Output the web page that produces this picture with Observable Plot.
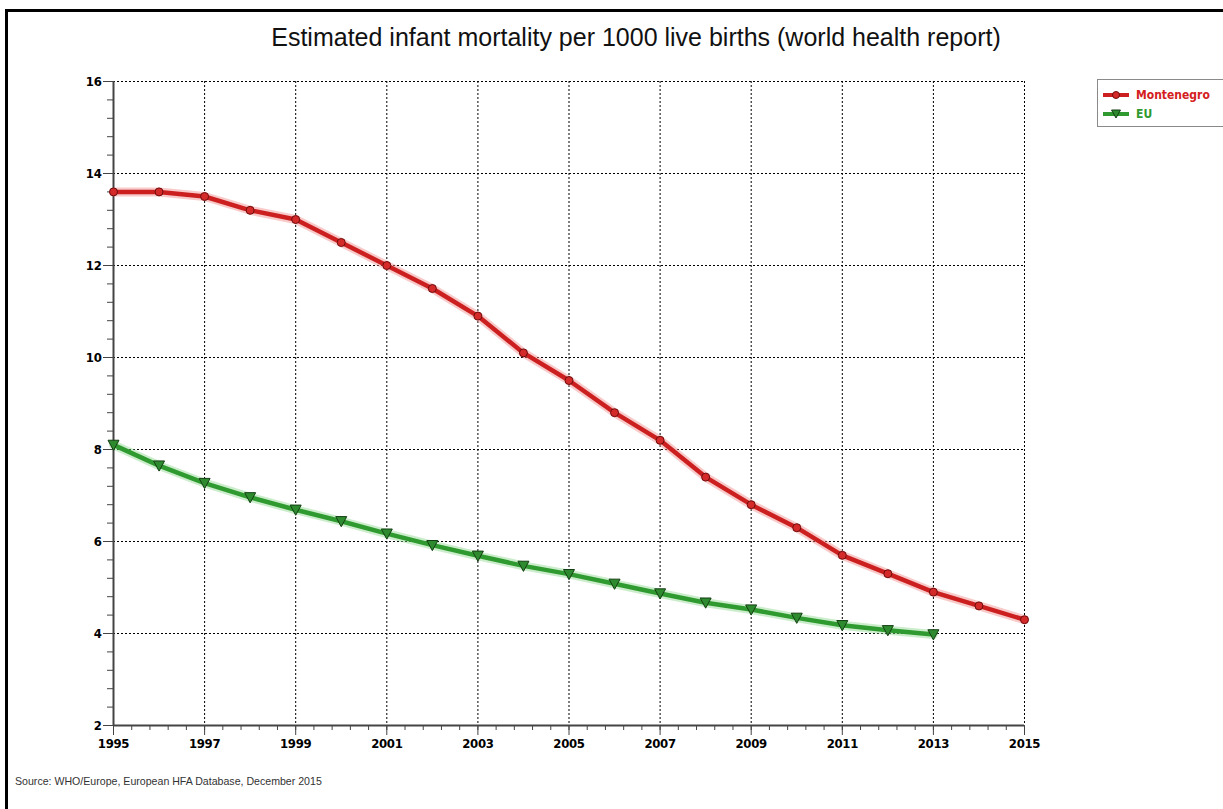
<!DOCTYPE html>
<html>
<head>
<meta charset="utf-8">
<script src="https://cdn.jsdelivr.net/npm/d3@7"></script>
<script src="https://cdn.jsdelivr.net/npm/@observablehq/plot@0.6"></script>
<style>
  html, body { margin: 0; padding: 0; background: #fff; }
  body { width: 1223px; height: 809px; overflow: hidden; position: relative; font-family: "Liberation Sans", Arial, sans-serif; }
  #frameTop { position: absolute; left: 5px; top: 9px; width: 1218px; height: 3px; background: #000; }
  #frameLeft { position: absolute; left: 5px; top: 9px; width: 3px; height: 800px; background: #000; }
  #title { position: absolute; left: 0; top: 23px; width: 1272px; text-align: center; font-size: 25px; line-height: 29px; color: #111; white-space: nowrap; }
  #chart { position: absolute; left: 0; top: 60px; }
  #source { position: absolute; left: 15px; top: 775px; font-size: 10.6px; color: #333; white-space: nowrap; }
  #legend { position: absolute; left: 1097px; top: 79px; width: 140px; height: 46px; border: 1px solid #8a8a8a; background: #fff; }
  .item { position: absolute; left: 5px; height: 18px; display: flex; align-items: center; font-family: "Liberation Sans Narrow", "DejaVu Sans Condensed", "Arial Narrow", sans-serif; font-stretch: condensed; font-weight: bold; font-size: 12px; }
  .item svg { margin-right: 6px; }
</style>
</head>
<body>
<div id="frameTop"></div>
<div id="frameLeft"></div>
<div id="title">Estimated infant mortality per 1000 live births (world health report)</div>
<div id="chart"></div>
<div id="legend"></div>
<div id="source">Source: WHO/Europe, European HFA Database, December 2015</div>
<script>
// ---- data ----
const years = [1995, 1996, 1997, 1998, 1999, 2000, 2001, 2002, 2003, 2004, 2005,
               2006, 2007, 2008, 2009, 2010, 2011, 2012, 2013, 2014, 2015];
const montenegro = [13.6, 13.6, 13.5, 13.2, 13.0, 12.5, 12.0, 11.5, 10.9, 10.1, 9.5,
                    8.8, 8.2, 7.4, 6.8, 6.3, 5.7, 5.3, 4.9, 4.6, 4.3];
const euYears = [1995, 1996, 1997, 1998, 1999, 2000, 2001, 2002, 2003, 2004, 2005,
                 2006, 2007, 2008, 2009, 2010, 2011, 2012, 2013];
const eu = [8.1, 7.65, 7.27, 6.96, 6.69, 6.44, 6.17, 5.92, 5.69, 5.47, 5.29,
            5.08, 4.87, 4.67, 4.52, 4.34, 4.18, 4.07, 3.98];
const seriesNames = ["Montenegro", "EU"];
const yTicks = [2, 4, 6, 8, 10, 12, 14, 16];
const xTicks = [1995, 1997, 1999, 2001, 2003, 2005, 2007, 2009, 2011, 2013, 2015];

// ---- styles ----
const redCore = "#cc2020", redGlow = "#f08a8a", redDot = "#d42a2a", redDotStroke = "#6e0c0c";
const greenCore = "#2f9a2f", greenGlow = "#8fd88f", greenTri = "#2e8a2e", greenTriStroke = "#143f14";

const mRows = years.map((y, i) => ({year: y, value: montenegro[i]}));
const eRows = euYears.map((y, i) => ({year: y, value: eu[i]}));

const yMinor = d3.range(0, 36).map(k => 2 + k * 0.4).filter(v => v <= 16.0001);
const xMinor = d3.range(0, 51).map(k => 1995 + k * 0.4).filter(v => v <= 2015.0001);

const triDown = {
  draw(ctx, size) {
    const r = Math.sqrt(size / Math.PI);
    ctx.moveTo(-r, -r * 0.85);
    ctx.lineTo(r, -r * 0.85);
    ctx.lineTo(0, r);
    ctx.closePath();
  }
};

const dotted = {stroke: "#000", strokeOpacity: 1, strokeWidth: 1, strokeDasharray: "2,2"};

const chart = Plot.plot({
  width: 1223,
  height: 709,
  marginLeft: 113,
  marginRight: 199,
  marginTop: 21,
  marginBottom: 44,
  x: {domain: [1995, 2015]},
  y: {domain: [2, 16]},
  style: {
    fontFamily: '"Liberation Sans Narrow", "DejaVu Sans Condensed", "Arial Narrow", sans-serif',
    fontSize: "13px",
    fontWeight: "bold",
    letterSpacing: "-0.3px",
    color: "#000",
    background: "transparent",
    overflow: "visible"
  },
  marks: [
    Plot.gridY(yTicks.slice(1), dotted),
    Plot.gridX(xTicks.slice(1), dotted),
    Plot.axisY(yMinor, {tickSize: 6, tickFormat: () => "", label: null, stroke: "#444"}),
    Plot.axisY(yTicks, {tickSize: 10, tickPadding: 2, label: null, stroke: "#444", tickFormat: d => String(d)}),
    Plot.axisX(xMinor, {tickSize: 5, tickFormat: () => "", label: null, stroke: "#444"}),
    Plot.axisX(xTicks, {tickSize: 10, tickPadding: 3, label: null, stroke: "#444", tickFormat: d => String(d)}),
    Plot.ruleX([1995], {stroke: "#444", strokeWidth: 2}),
    Plot.ruleY([2], {stroke: "#444", strokeWidth: 2}),
    // Montenegro
    Plot.line(mRows, {x: "year", y: "value", stroke: redGlow, strokeWidth: 9, strokeOpacity: 0.45}),
    Plot.line(mRows, {x: "year", y: "value", stroke: redCore, strokeWidth: 4.5}),
    Plot.dot(mRows, {x: "year", y: "value", r: 4, fill: redDot, stroke: redDotStroke, strokeWidth: 1}),
    // EU
    Plot.line(eRows, {x: "year", y: "value", stroke: greenGlow, strokeWidth: 9, strokeOpacity: 0.45}),
    Plot.line(eRows, {x: "year", y: "value", stroke: greenCore, strokeWidth: 4.5}),
    Plot.dot(eRows, {x: "year", y: "value", r: 5.5, symbol: triDown, fill: greenTri, stroke: greenTriStroke, strokeWidth: 1})
  ]
});
document.getElementById("chart").appendChild(chart);

// ---- legend ----
const legend = document.getElementById("legend");
const legendSpecs = [
  {name: seriesNames[0], color: redCore, text: "#d42020", marker: "circle", mfill: redDot, mstroke: redDotStroke, top: 6},
  {name: seriesNames[1], color: greenCore, text: "#2f9a2f", marker: "tri", mfill: greenTri, mstroke: greenTriStroke, top: 25}
];
legendSpecs.forEach(s => {
  const div = document.createElement("div");
  div.className = "item";
  div.style.top = s.top + "px";
  div.style.color = s.text;
  const marker = s.marker === "circle"
    ? `<circle cx="13" cy="9" r="3.5" fill="${s.mfill}" stroke="${s.mstroke}" stroke-width="1"/>`
    : `<path d="M8.5,5 L17.5,5 L13,13 Z" fill="${s.mfill}" stroke="${s.mstroke}" stroke-width="1"/>`;
  div.innerHTML = `<svg width="27" height="18"><line x1="0" y1="9" x2="26" y2="9" stroke="${s.color}" stroke-width="4"/>${marker}</svg><span>${s.name}</span>`;
  legend.appendChild(div);
});
</script>
</body>
</html>
